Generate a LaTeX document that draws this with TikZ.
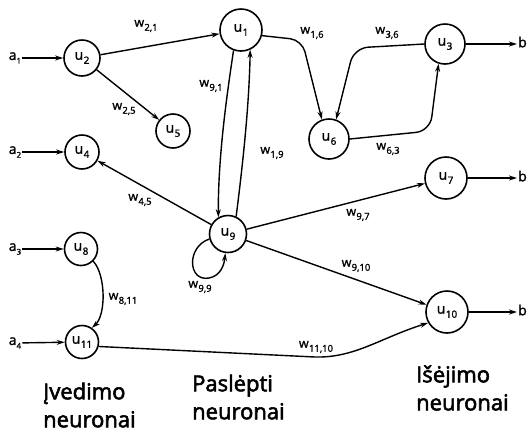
\documentclass[tikz,border=0pt]{standalone}
\usepackage{fontspec}
\setmainfont{Open Sans}
\newfontfamily\labfont[FakeBold=1.5]{Open Sans}
\newfontfamily\capfont[FakeBold=2.5]{Open Sans}
\usetikzlibrary{arrows.meta}
% labels with lowered indices
\newcommand\ulab[1]{u\kern0.4pt\raisebox{-0.55ex}{\fontsize{10}{10}\selectfont#1}}
\newcommand\wlab[1]{w\kern0.3pt\raisebox{-0.6ex}{\fontsize{9.5}{10}\selectfont#1}}
\newcommand\alab[1]{a\raisebox{-0.5ex}{\fontsize{8}{8}\selectfont#1}}
\begin{document}
\begin{tikzpicture}[x=1pt,y=-1pt,
  neuron/.style={circle, draw, line width=1.6pt, inner sep=0pt, font=\labfont\fontsize{14}{15}\selectfont},
  arr/.style={line width=1.4pt, -{Stealth[length=8pt,width=5pt]}},
  wt/.style={font=\labfont\fontsize{12.5}{13}\selectfont, inner sep=0pt},
  io/.style={font=\labfont\fontsize{14}{15}\selectfont, inner sep=1pt},
  cat/.style={font=\capfont\fontsize{22}{28}\selectfont, align=left, anchor=west, inner sep=0pt}]
\useasboundingbox (0,0) rectangle (528,432);
\fill[white] (0,0) rectangle (528,432);

% neurons
\node[neuron, minimum size=36pt] (u2)  at (82,58)   {\ulab{2}};
\node[neuron, minimum size=42pt] (u1)  at (241,30)  {\ulab{1}};
\node[neuron, minimum size=34pt] (u5)  at (173,131) {\ulab{5}};
\node[neuron, minimum size=34pt] (u4)  at (82,152)  {\ulab{4}};
\node[neuron, minimum size=40pt] (u6)  at (329,139) {\ulab{6}};
\node[neuron, minimum size=40pt] (u3)  at (445,44)  {\ulab{3}};
\node[neuron, minimum size=42pt] (u7)  at (446,178) {\ulab{7}};
\node[neuron, minimum size=37pt] (u9)  at (228,234) {\ulab{9}};
\node[neuron, minimum size=33pt] (u8)  at (81,249)  {\ulab{8}};
\node[neuron, minimum size=33pt] (u11) at (82,342)  {\ulab{11}};
\node[neuron, minimum size=42pt] (u10) at (447,312) {\ulab{10}};

% inputs
\node[io] (a1) at (15,58)  {\alab{1}};
\node[io] (a2) at (15,152) {\alab{2}};
\node[io] (a3) at (15,249) {\alab{3}};
\node[io] (a4) at (15,343) {\alab{4}};
\draw[arr] (a1) -- (u2);
\draw[arr] (a2) -- (u4);
\draw[arr] (a3) -- (u8);
\draw[arr] (a4) -- (u11);

% outputs at the right edge
\node[io, anchor=west] (b1) at (517,42)  {b};
\node[io, anchor=west] (b2) at (517,176) {b};
\node[io, anchor=west] (b3) at (517,310) {b};
\draw[arr] (u3) -- (b1.west |- u3);
\draw[arr] (u7) -- (b2.west |- u7);
\draw[arr] (u10) -- (b3.west |- u10);

% connections
\draw[arr] (u2) -- (u1);
\draw[arr] (u2) -- (u5);
\draw[arr] (u9) -- (u4);
\draw[arr] (u1.250) .. controls (226,100) and (218,160) .. (u9.120);
\draw[arr] (u9.65) .. controls (242,170) and (249,110) .. (u1.295);
\draw[arr, rounded corners=12pt] (u1.345) -- (302,40) -- (u6.110);
\draw[arr, rounded corners=14pt] (u3.west) -- (354,48) -- (u6.70);
\draw[arr, rounded corners=14pt] (u6.east) -- (430,131) -- (u3.252);
\draw[arr] (u9) -- (u7);
\draw[arr] (u9) -- (u10);
\draw[arr] (u11.-15) -- (315,357) .. controls (355,358) and (380,338) .. (u10.210);
\draw[arr] (u8.-45) .. controls (106,275) and (106,315) .. (u11.55);
\draw[arr] (u9.195) .. controls (186,247) and (188,282) .. (209,278)
                    .. controls (220,276) and (224,266) .. (u9.262);

% weights
\node[wt] (w21)   at (146,26)  {\wlab{2,1}};
\node[wt] (w25)   at (124,109) {\wlab{2,5}};
\node[wt] (w91)   at (211,86)  {\wlab{9,1}};
\node[wt] (w19)   at (272,153) {\wlab{1,9}};
\node[wt] (w16)   at (312,33)  {\wlab{1,6}};
\node[wt] (w36)   at (387,33)  {\wlab{3,6}};
\node[wt] (w63)   at (388,149) {\wlab{6,3}};
\node[wt] (w45)   at (140,200) {\wlab{4,5}};
\node[wt] (w97)   at (358,215) {\wlab{9,7}};
\node[wt] (w910)  at (356,266) {\wlab{9,10}};
\node[wt] (w1110) at (316,347) {\wlab{11,10}};
\node[wt] (w811)  at (123,299) {\wlab{8,11}};
\node[wt] (w99)   at (200,287) {\wlab{9,9}};

% layer captions
\node[cat] (lin)  at (43,405)  {Įvedimo\\neuronai};
\node[cat] (lhid) at (192,397) {Paslėpti\\neuronai};
\node[cat] (lout) at (416,388) {Išėjimo\\neuronai};
\end{tikzpicture}
\end{document}
